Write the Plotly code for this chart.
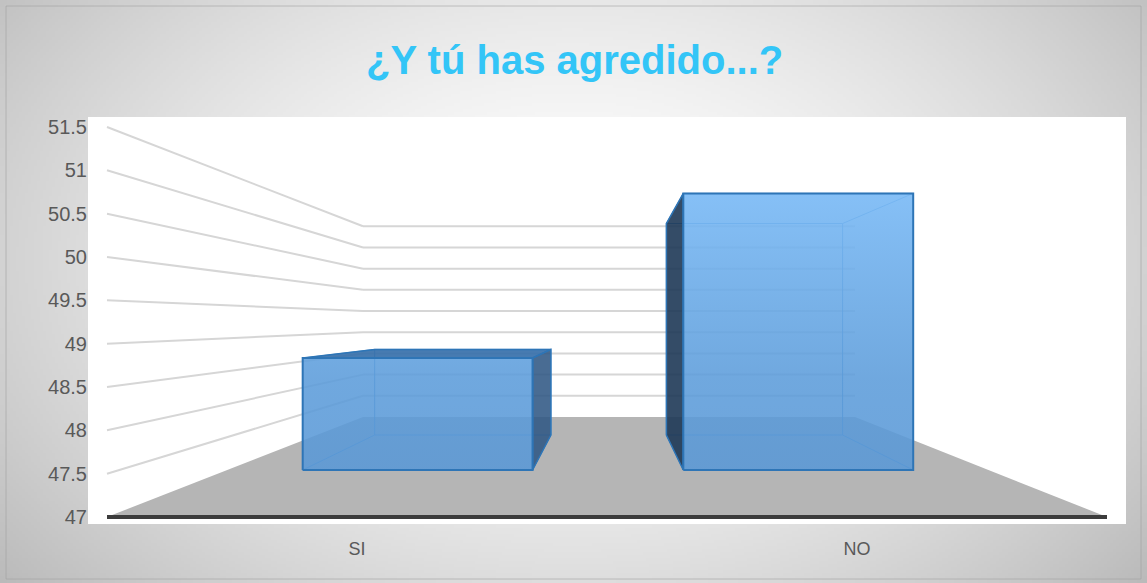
import zlib, struct, base64
import numpy as np
import plotly.graph_objects as go

# ---------------- data ----------------
categories = ["SI", "NO"]
values = [48.7, 51.2]
y_ticks = [47, 47.5, 48, 48.5, 49, 49.5, 50, 50.5, 51, 51.5]
y_tick_labels = ["47", "47.5", "48", "48.5", "49", "49.5", "50", "50.5", "51", "51.5"]
title_text = "¿Y tú has agredido...?"

# ---------------- 3D-like projection (style/geometry) ----------------
V0 = 47.0
BX0, BXS = 0.256, 0.492      # back plane x offset / scale (in category units)
BY0, BYS = 1.154, 0.489      # back plane y offset / scale (in value units)
D_FRONT, D_BACK = 0.47, 0.82 # bar depth span
HALF_W = 0.151               # half bar width (category units)
centers = [(i + 0.5) / len(categories) for i in range(len(categories))]


def P(u, v, d):
    x = u * (1 - d) + (BX0 + BXS * u) * d
    y = V0 + (v - V0) * (1 - d) + (BY0 + BYS * (v - V0)) * d
    return x, y


def poly(points):
    xs, ys = zip(*points)
    return list(xs) + [xs[0]], list(ys) + [ys[0]]


fig = go.Figure()

# floor
fx, fy = poly([P(0, V0, 0), P(1, V0, 0), P(1, V0, 1), P(0, V0, 1)])
fig.add_trace(go.Scatter(x=fx, y=fy, fill="toself", fillcolor="#b5b5b5",
                         line=dict(width=0), mode="lines", hoverinfo="skip"))

# gridlines (left wall + back wall)
gx, gy = [], []
for v in y_ticks:
    if v == V0:
        continue
    for a, b in [(P(0, v, 0), P(0, v, 1)), (P(0, v, 1), P(1, v, 1))]:
        gx += [a[0], b[0], None]
        gy += [a[1], b[1], None]
fig.add_trace(go.Scatter(x=gx, y=gy, mode="lines",
                         line=dict(color="#d6d6d6", width=2), hoverinfo="skip"))

# front floor edge
a, b = P(0, V0, 0), P(1, V0, 0)
fig.add_trace(go.Scatter(x=[a[0], b[0]], y=[a[1], b[1]], mode="lines",
                         line=dict(color="#3c3c3c", width=4), hoverinfo="skip"))

edge_col = "#2e75b6"
front_scale = [[0, "rgba(88,150,212,0.88)"], [0.35, "rgba(92,156,218,0.88)"],
               [1, "rgba(132,196,255,0.92)"]]

for c, val in zip(centers, values):
    u0, u1 = c - HALF_W, c + HALF_W
    corners = {}
    for iu, u in enumerate([u0, u1]):
        for iv, v in enumerate([V0, val]):
            for idd, d in enumerate([D_FRONT, D_BACK]):
                corners[(iu, iv, idd)] = P(u, v, d)
    # all edges faintly (seen through)
    ex, ey = [], []
    for k in corners:
        for dim in range(3):
            if k[dim] == 0:
                k2 = list(k); k2[dim] = 1; k2 = tuple(k2)
                ex += [corners[k][0], corners[k2][0], None]
                ey += [corners[k][1], corners[k2][1], None]
    fig.add_trace(go.Scatter(x=ex, y=ey, mode="lines",
                             line=dict(color="rgba(70,140,205,0.9)", width=1),
                             hoverinfo="skip"))
    # side face
    right_visible = corners[(1, 0, 1)][0] > corners[(1, 0, 0)][0]
    iu = 1 if right_visible else 0
    sx, sy = poly([corners[(iu, 0, 0)], corners[(iu, 0, 1)],
                   corners[(iu, 1, 1)], corners[(iu, 1, 0)]])
    side_col = "rgba(48,88,132,0.88)" if right_visible else "rgba(30,56,86,0.9)"
    fig.add_trace(go.Scatter(x=sx, y=sy, fill="toself", fillcolor=side_col,
                             mode="lines", line=dict(color=edge_col, width=1.5),
                             hoverinfo="skip"))
    # top face (if seen from above)
    if corners[(0, 1, 1)][1] > corners[(0, 1, 0)][1]:
        tx, ty = poly([corners[(0, 1, 0)], corners[(1, 1, 0)],
                       corners[(1, 1, 1)], corners[(0, 1, 1)]])
        fig.add_trace(go.Scatter(x=tx, y=ty, fill="toself",
                                 fillcolor="rgba(55,112,170,0.92)", mode="lines",
                                 line=dict(color=edge_col, width=1.5),
                                 hoverinfo="skip"))
    # front face
    qx, qy = poly([corners[(0, 0, 0)], corners[(1, 0, 0)],
                   corners[(1, 1, 0)], corners[(0, 1, 0)]])
    fig.add_trace(go.Scatter(x=qx, y=qy, fill="toself",
                             fillgradient=dict(type="vertical", colorscale=front_scale,
                                               start=V0, stop=y_ticks[-1]),
                             mode="lines", line=dict(color=edge_col, width=2),
                             hoverinfo="skip"))

# ---------------- background gradient image ----------------
W, H = 1147, 583
sw, sh = 383, 195
xx, yy = np.meshgrid((np.arange(sw) + 0.5) * W / sw, (np.arange(sh) + 0.5) * H / sh)
r = np.sqrt(((xx - 573) / 700) ** 2 + ((yy - 260) / 470) ** 2)
r = np.clip(r, 0, 1.2)
g = 255 - 62 * np.clip(r, 0, 1.1) ** 1.6
g = np.clip(g, 185, 255).astype(np.uint8)
img = np.stack([g, g, g], axis=-1)
raw = b"".join(b"\x00" + img[i].tobytes() for i in range(sh))


def chunk(tag, data):
    c = struct.pack(">I", len(data)) + tag + data
    return c + struct.pack(">I", zlib.crc32(tag + data) & 0xffffffff)


png = (b"\x89PNG\r\n\x1a\n" + chunk(b"IHDR", struct.pack(">IIBBBBB", sw, sh, 8, 2, 0, 0, 0))
       + chunk(b"IDAT", zlib.compress(raw, 9)) + chunk(b"IEND", b""))
uri = "data:image/png;base64," + base64.b64encode(png).decode()

ML, MR, MT, MB = 88, 21, 117, 59
pw, ph = W - ML - MR, H - MT - MB

fig.update_layout(
    width=W, height=H, autosize=False,
    margin=dict(l=ML, r=MR, t=MT, b=MB),
    paper_bgcolor="#d9d9d9", plot_bgcolor="white",
    showlegend=False,
    images=[dict(source=uri, xref="paper", yref="paper",
                 x=-ML / pw, y=1 + MT / ph, sizex=W / pw, sizey=H / ph,
                 xanchor="left", yanchor="top", sizing="stretch", layer="below")],
    shapes=[dict(type="rect", xref="paper", yref="paper", x0=0, x1=1, y0=0, y1=1,
                 fillcolor="white", line=dict(width=0), layer="below"),
            dict(type="rect", xref="paper", yref="paper",
                 x0=-(ML - 6) / pw, x1=1 + (MR - 6) / pw,
                 y0=-(MB - 4) / ph, y1=1 + (MT - 6) / ph,
                 line=dict(color="rgba(160,160,160,0.6)", width=1), layer="below")],
    title=dict(text="<b>" + title_text + "</b>", x=0.501, xanchor="center",
               y=1 - 60 / H, yanchor="middle", yref="container",
               font=dict(family="Liberation Sans Narrow, Liberation Sans, Arial",
                         size=40, color="#33c5f7")),
    font=dict(family="Liberation Sans, Arial", color="#595959"),
)
fig.update_xaxes(range=[-0.019, 1.019], tickvals=centers, ticktext=categories,
                 showgrid=False, zeroline=False, showline=False, ticks="",
                 tickfont=dict(size=18, color="#595959"), ticklabelstandoff=12,
                 fixedrange=True)
fig.update_yaxes(range=[V0 - 7 / 86.67, y_ticks[-1] + 10 / 86.67], tickvals=y_ticks,
                 ticktext=y_tick_labels, showgrid=False, zeroline=False,
                 showline=False, ticks="", tickfont=dict(size=20, color="#595959"),
                 fixedrange=True)

fig.write_html("out.html", post_script="document.body.style.margin='0';",
               config={"displayModeBar": False})
